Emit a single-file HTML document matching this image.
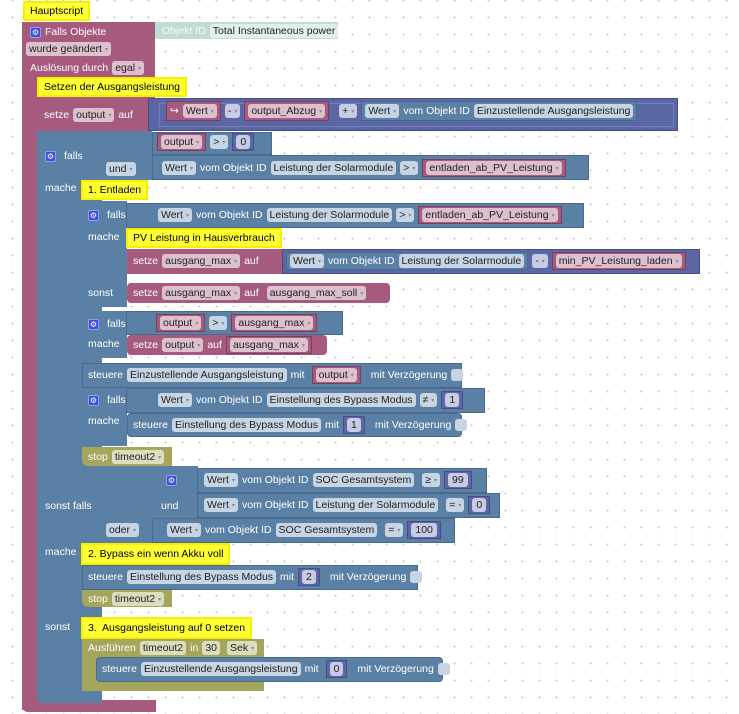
<!DOCTYPE html>
<html><head><meta charset="utf-8"><style>
*{box-sizing:border-box;margin:0;padding:0}
body{width:739px;height:714px;overflow:hidden;background:#fff;background-image:radial-gradient(circle,#c8c8c8 0.8px,transparent 1.2px);background-size:17px 17px;background-position:4px 9px;font-family:"Liberation Sans",sans-serif;font-size:10.5px;position:relative}
.b{position:absolute}
.mg{background:#a65b7e}
.vr{background:#a55b80;border:1px solid #7a3d5c}
.bl{background:#5b80a5;border:1px solid #4a6a8c}
.bl2{background:#5b80a5}
.pu{background:#5b67a5;border:1px solid #464f85}
.ol{background:#a5a55b}
.cm{background:#ffff33;border:2px solid #f5ef00;color:#000;padding:0 5px;display:flex;align-items:center}
.r{position:absolute;display:flex;align-items:center;gap:4px;color:#fff;white-space:nowrap;height:16px}
.p{display:inline-flex;align-items:center;height:14px;padding:0 3px;border-radius:3px;background:#c6d4e3;color:#222}
.p.m{background:#dcc0cd}
.p.o{background:#dcdcbf}
.p.n{background:#c8cbe3;padding:0 4px}
.dd:after{content:" ▾";font-size:6px;color:#889;margin-left:3px}
.ck{display:inline-block;width:12px;height:12px;border-radius:3px;background:#c6d4e3}
.gear{display:inline-block;width:11px;height:11px;background:#3f4fd6;border:1px solid #8aa0ff;border-radius:2px;color:#fff;font-size:8px;line-height:9px;text-align:center}
.vw{background:#a55b80;border:1px solid #7a3d5c;padding:2px 3px;display:inline-flex;align-items:center}
.pw{background:#5b67a5;border:1px solid #464f85;padding:2px 3px;display:inline-flex;align-items:center}
</style></head><body>

<div class="b mg" style="left:22px;top:22px;width:133px;height:78px"></div>
<div class="b mg" style="left:22px;top:98px;width:16px;height:612px"></div>
<div class="b mg" style="left:22px;top:700px;width:134px;height:12px;border-radius:0 0 0 6px"></div>
<div class="b" style="left:155px;top:22px;width:183px;height:17px;background:#c0ddd4"></div>
<div class="r" style="left:30px;top:24px"><span class="gear">⚙</span><span>Falls Objekte</span></div>
<div class="r" style="left:162px;top:23px"><span style="color:#f4f8f7">Objekt ID</span><span class="p" style="background:#e2f0eb">Total Instantaneous power</span></div>
<div class="r" style="left:26px;top:41px"><span class="p m dd">wurde geändert</span></div>
<div class="r" style="left:30px;top:60px"><span>Auslösung durch</span><span class="p m dd">egal</span></div>
<div class="b cm" style="left:23px;top:1px;height:20px">Hauptscript</div>
<div class="b cm" style="left:37px;top:77px;height:20px">Setzen der Ausgangsleistung</div>

<div class="b mg" style="left:37px;top:98px;width:112px;height:33px"></div>
<div class="b pu" style="left:148px;top:98px;width:530px;height:33px"></div>
<div class="b" style="left:159px;top:103px;width:515px;height:24px;border:1px solid #7580b8"></div>
<div class="r" style="left:44px;top:107px"><span>setze</span><span class="p m dd">output</span><span>auf</span></div>
<div class="r" style="left:166px;top:103px;gap:4px"><span class="vw"><span style="margin-right:4px">↪</span><span class="p m dd">Wert</span></span><span class="p dd" style="background:#c8cbe3">-</span><span class="vw"><span class="p m dd">output_Abzug</span></span><span class="p dd" style="background:#c8cbe3;margin-left:6px">+</span><span class="b bl2" style="position:static;display:inline-flex;align-items:center;gap:4px;padding:2px 3px;border:1px solid #4a6a8c"><span class="p dd">Wert</span><span>vom Objekt ID</span><span class="p">Einzustellende Ausgangsleistung</span></span></div>

<div class="b bl2" style="left:37px;top:131px;width:65px;height:572px;border-radius:0 0 0 6px"></div>
<div class="b bl2" style="left:100px;top:131px;width:52px;height:49px"></div>
<div class="b bl" style="left:152px;top:132px;width:120px;height:23px"></div>
<div class="b bl" style="left:152px;top:155px;width:437px;height:25px"></div>
<div class="r" style="left:45px;top:148px;gap:8px"><span class="gear">⚙</span><span>falls</span></div>
<div class="r" style="left:106px;top:161px"><span class="p dd">und</span></div>
<div class="r" style="left:157px;top:134px"><span class="vw" style="padding:1px 3px"><span class="p m dd">output</span></span><span class="p dd">&gt;</span><span class="pw" style="padding:1px 3px"><span class="p n">0</span></span></div>
<div class="r" style="left:162px;top:160px"><span class="p dd">Wert</span><span>vom Objekt ID</span><span class="p">Leistung der Solarmodule</span><span class="p dd">&gt;</span><span class="vw" style="padding:1px 3px"><span class="p m dd">entladen_ab_PV_Leistung</span></span></div>
<div class="r" style="left:45px;top:180px">mache</div>
<div class="b cm" style="left:81px;top:180px;height:20px">1. Entladen</div>

<div class="b bl2" style="left:82px;top:201px;width:45px;height:106px"></div>
<div class="b bl" style="left:126px;top:203px;width:458px;height:25px"></div>
<div class="r" style="left:88px;top:207px;gap:8px"><span class="gear">⚙</span><span>falls</span></div>
<div class="r" style="left:158px;top:207px"><span class="p dd">Wert</span><span>vom Objekt ID</span><span class="p">Leistung der Solarmodule</span><span class="p dd">&gt;</span><span class="vw" style="padding:1px 3px"><span class="p m dd">entladen_ab_PV_Leistung</span></span></div>
<div class="r" style="left:88px;top:229px">mache</div>
<div class="b cm" style="left:126px;top:228px;height:20px">PV Leistung in Hausverbrauch</div>
<div class="b mg" style="left:127px;top:249px;width:156px;height:25px"></div>
<div class="b pu" style="left:282px;top:249px;width:418px;height:25px"></div>
<div class="r" style="left:133px;top:253px"><span>setze</span><span class="p m dd">ausgang_max</span><span>auf</span></div>
<div class="r" style="left:286px;top:253px"><span class="bl" style="display:inline-flex;align-items:center;gap:4px;padding:1px 3px"><span class="p dd">Wert</span><span>vom Objekt ID</span><span class="p">Leistung der Solarmodule</span></span><span class="p dd" style="background:#c8cbe3">-</span><span class="vw" style="padding:1px 3px"><span class="p m dd">min_PV_Leistung_laden</span></span></div>
<div class="r" style="left:88px;top:285px">sonst</div>
<div class="b mg" style="left:127px;top:283px;width:263px;height:20px;border-radius:4px"></div>
<div class="r" style="left:133px;top:285px"><span>setze</span><span class="p m dd">ausgang_max</span><span>auf</span><span class="p m dd" style="margin-left:4px">ausgang_max_soll</span></div>

<div class="b bl2" style="left:82px;top:311px;width:45px;height:47px"></div>
<div class="b bl" style="left:126px;top:311px;width:217px;height:24px"></div>
<div class="r" style="left:88px;top:316px;gap:8px"><span class="gear">⚙</span><span>falls</span></div>
<div class="r" style="left:156px;top:315px"><span class="vw" style="padding:1px 3px"><span class="p m dd">output</span></span><span class="p dd">&gt;</span><span class="vw" style="padding:1px 3px"><span class="p m dd">ausgang_max</span></span></div>
<div class="r" style="left:88px;top:336px">mache</div>
<div class="b mg" style="left:127px;top:335px;width:200px;height:20px;border-radius:4px"></div>
<div class="r" style="left:133px;top:337px"><span>setze</span><span class="p m dd">output</span><span>auf</span><span class="vw" style="padding:1px 3px"><span class="p m dd">ausgang_max</span></span></div>

<div class="b bl" style="left:82px;top:363px;width:380px;height:25px"></div>
<div class="r" style="left:88px;top:367px"><span>steuere</span><span class="p">Einzustellende Ausgangsleistung</span><span>mit</span><span class="vw" style="padding:1px 3px;margin-left:3px"><span class="p m dd">output</span></span><span style="margin-left:6px">mit Verzögerung</span><span class="ck"></span></div>

<div class="b bl2" style="left:82px;top:388px;width:45px;height:58px"></div>
<div class="b bl" style="left:126px;top:388px;width:359px;height:25px"></div>
<div class="r" style="left:88px;top:392px;gap:8px"><span class="gear">⚙</span><span>falls</span></div>
<div class="r" style="left:158px;top:392px"><span class="p dd">Wert</span><span>vom Objekt ID</span><span class="p">Einstellung des Bypass Modus</span><span class="p dd">≠</span><span class="pw" style="padding:1px 3px"><span class="p n">1</span></span></div>
<div class="r" style="left:88px;top:413px">mache</div>
<div class="b bl" style="left:127px;top:413px;width:335px;height:24px;border-radius:4px"></div>
<div class="r" style="left:133px;top:417px"><span>steuere</span><span class="p">Einstellung des Bypass Modus</span><span>mit</span><span class="pw" style="padding:1px 3px"><span class="p n">1</span></span><span style="margin-left:6px">mit Verzögerung</span><span class="ck"></span></div>

<div class="b ol" style="left:82px;top:447px;width:90px;height:19px;border-radius:0 0 0 6px"></div>
<div class="r" style="left:88px;top:449px"><span>stop</span><span class="p o dd">timeout2</span></div>

<div class="b bl2" style="left:100px;top:466px;width:52px;height:77px"></div>
<div class="b bl2" style="left:152px;top:466px;width:46px;height:52px"></div>
<div class="b bl" style="left:197px;top:468px;width:290px;height:25px"></div>
<div class="b bl" style="left:197px;top:493px;width:303px;height:25px"></div>
<div class="b bl" style="left:152px;top:518px;width:303px;height:25px"></div>
<div class="r" style="left:45px;top:498px">sonst falls</div>
<div class="r" style="left:166px;top:472px"><span class="gear">⚙</span></div>
<div class="r" style="left:161px;top:498px">und</div>
<div class="r" style="left:106px;top:522px"><span class="p dd">oder</span></div>
<div class="r" style="left:204px;top:472px"><span class="p dd">Wert</span><span>vom Objekt ID</span><span class="p">SOC Gesamtsystem</span><span class="p dd" style="margin-left:4px">≥</span><span class="pw" style="padding:1px 3px"><span class="p n">99</span></span></div>
<div class="r" style="left:204px;top:497px"><span class="p dd">Wert</span><span>vom Objekt ID</span><span class="p">Leistung der Solarmodule</span><span class="p dd" style="margin-left:4px">=</span><span class="pw" style="padding:1px 3px"><span class="p n">0</span></span></div>
<div class="r" style="left:167px;top:522px"><span class="p dd">Wert</span><span>vom Objekt ID</span><span class="p">SOC Gesamtsystem</span><span class="p dd" style="margin-left:4px">=</span><span class="pw" style="padding:1px 3px"><span class="p n">100</span></span></div>
<div class="r" style="left:45px;top:544px">mache</div>
<div class="b cm" style="left:81px;top:543px;height:22px">2. Bypass ein wenn Akku voll</div>
<div class="b bl" style="left:82px;top:565px;width:336px;height:25px"></div>
<div class="r" style="left:88px;top:569px"><span>steuere</span><span class="p">Einstellung des Bypass Modus</span><span>mit</span><span class="pw" style="padding:1px 3px"><span class="p n">2</span></span><span style="margin-left:6px">mit Verzögerung</span><span class="ck"></span></div>
<div class="b ol" style="left:82px;top:590px;width:90px;height:17px;border-radius:0 0 0 6px"></div>
<div class="r" style="left:88px;top:591px"><span>stop</span><span class="p o dd">timeout2</span></div>

<div class="r" style="left:45px;top:619px">sonst</div>
<div class="b cm" style="left:81px;top:617px;height:22px">3.&nbsp; Ausgangsleistung auf 0 setzen</div>
<div class="b ol" style="left:82px;top:639px;width:182px;height:19px"></div>
<div class="b ol" style="left:82px;top:657px;width:15px;height:34px"></div>
<div class="b ol" style="left:82px;top:681px;width:182px;height:10px;border-radius:0 0 0 6px"></div>
<div class="r" style="left:88px;top:640px"><span>Ausführen</span><span class="p o">timeout2</span><span>in</span><span class="p o">30</span><span class="p o dd" style="margin-left:3px">Sek</span></div>
<div class="b bl" style="left:96px;top:657px;width:347px;height:25px;border-radius:4px"></div>
<div class="r" style="left:102px;top:661px"><span>steuere</span><span class="p">Einzustellende Ausgangsleistung</span><span>mit</span><span class="pw" style="padding:1px 3px;margin-left:3px"><span class="p n">0</span></span><span style="margin-left:6px">mit Verzögerung</span><span class="ck"></span></div>

</body></html>
